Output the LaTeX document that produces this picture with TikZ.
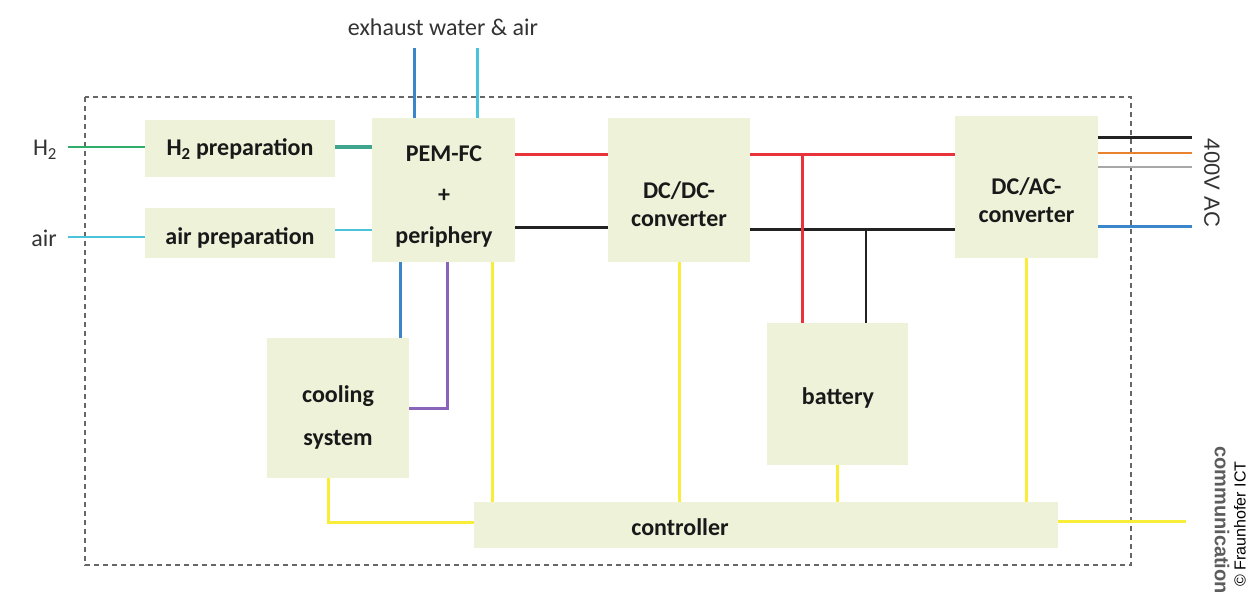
\documentclass[tikz,border=0pt]{standalone}
\usepackage{fontspec}
\setmainfont{Carlito}
\newfontfamily\arialf{Liberation Sans}
\definecolor{boxfill}{HTML}{EDF2D9}
\definecolor{cgreen}{HTML}{2EAD6B}
\definecolor{cteal}{HTML}{3FA58C}
\definecolor{clblue}{HTML}{4BC3DA}
\definecolor{cblue}{HTML}{3A86C8}
\definecolor{cred}{HTML}{E8333A}
\definecolor{cblack}{HTML}{222222}
\definecolor{corange}{HTML}{E8822F}
\definecolor{cgray}{HTML}{A8A8A8}
\definecolor{cpurple}{HTML}{8A64B8}
\definecolor{cyellow}{HTML}{F8EE3A}
\definecolor{ctext}{HTML}{333333}
\tikzset{
  blk/.style={fill=boxfill, draw=none, align=center, inner sep=0pt,
    font=\fontsize{24}{40}\selectfont\bfseries, text=black!90},
  btxt/.style={inner sep=0pt, align=center, text=black!90},
  wire/.style={line width=3pt},
  lbl/.style={inner sep=0pt, text=ctext, font=\fontsize{24}{28}\selectfont},
}
\begin{document}
\begin{tikzpicture}[x=1pt,y=-1pt]
\useasboundingbox[fill=white] (0,0) rectangle (1249,596);
% frame
\draw[draw=gray!80!black, line width=1.8pt, dash pattern=on 5pt off 4pt] (85,97) rectangle (1131,565);
% boxes
\node[blk, minimum width=190, minimum height=57] (h2prep) at (240,148.5) {};
\node[blk, minimum width=190, minimum height=50] (airprep) at (240,233) {};
\node[blk, minimum width=143, minimum height=144] (pem) at (443.5,190) {};
\node[blk, minimum width=142, minimum height=144] (dcdc) at (679,190) {};
\node[blk, minimum width=143, minimum height=142] (dcac) at (1026.5,187) {};
\node[blk, minimum width=141, minimum height=142] (battery) at (837.5,394) {};
\node[blk, minimum width=142, minimum height=140] (cooling) at (338,408) {};
\node[blk, minimum width=584, minimum height=46] (controller) at (766,525) {};
% box texts
\node[btxt, font=\fontsize{24}{28}\selectfont\bfseries] (h2txt) at (240,149) {H\textsubscript{2} preparation};
\node[btxt, font=\fontsize{24}{28}\selectfont\bfseries] (airtxt) at (240,238) {air preparation};
\node[btxt, font=\fontsize{24}{41}\selectfont\bfseries] (pemtxt) at (444,197) {PEM-FC\\+\\periphery};
\node[btxt, font=\fontsize{24}{28}\selectfont\bfseries] (dcdctxt) at (679,204) {DC/DC-\\converter};
\node[btxt, font=\fontsize{24}{28}\selectfont\bfseries] (dcactxt) at (1026.5,200) {DC/AC-\\converter};
\node[btxt, font=\fontsize{24}{43}\selectfont\bfseries] (cooltxt) at (338,417) {cooling\\system};
\node[btxt, font=\fontsize{24}{28}\selectfont\bfseries] (battxt) at (838,398) {battery};
\node[btxt, font=\fontsize{24}{28}\selectfont\bfseries] (ctrltxt) at (680,527) {controller};
% labels
\node[lbl] (exh) at (443,27) {exhaust water \& air};
\node[lbl] (h2l) at (45,150) {H\textsubscript{2}};
\node[lbl] (airl) at (44,238) {air};
\node[lbl, rotate=-90, font=\arialf\fontsize{22}{24}\selectfont] (acl) at (1212,183) {400V AC};
\node[lbl, rotate=-90, font=\arialf\bfseries\fontsize{20}{24}\selectfont, text=ctext!80] (coml) at (1222,520) {communication};
\node[lbl, rotate=90, font=\arialf\fontsize{16}{20}\selectfont, text=black] (copy) at (1240,524) {\textcopyright\ Fraunhofer ICT};
% coordinates for free ends
\coordinate (h2in) at (68,147);
\coordinate (airin) at (68,237);
\coordinate (exh1) at (414,48);
\coordinate (exh2) at (477,48);
\coordinate (ac1) at (1192,138);
\coordinate (ac2) at (1192,153);
\coordinate (ac3) at (1192,167);
\coordinate (ac4) at (1192,226);
\coordinate (comout) at (1186,521);
% inputs
\draw[wire, cgreen, line width=2.4pt] (h2in) -- (h2prep.west |- h2in);
\draw[wire, cteal, line width=3.4pt] (h2prep.east |- 0,147) -- (pem.west |- 0,147);
\draw[wire, clblue, line width=2.4pt] (airin) -- (airprep.west |- airin);
\draw[wire, clblue, line width=2.4pt] (airprep.east |- 0,230) -- (pem.west |- 0,230);
\draw[wire, cblue] (exh1) -- (pem.north -| exh1);
\draw[wire, clblue] (exh2) -- (pem.north -| exh2);
% DC bus
\draw[wire, cred] (pem.east |- 0,155) -- (dcdc.west |- 0,155);
\draw[wire, cblack] (pem.east |- 0,227) -- (dcdc.west |- 0,227);
\draw[wire, cred] (dcdc.east |- 0,155) -- (dcac.west |- 0,155);
\draw[wire, cblack] (dcdc.east |- 0,229) -- (dcac.west |- 0,229);
\draw[wire, cred] (802,155) -- (battery.north -| 802,0);
\draw[wire, cblack, line width=2.4pt] (866,229) -- (battery.north -| 866,0);
% AC out
\draw[wire, cblack] (dcac.east |- ac1) -- (ac1);
\draw[wire, corange, line width=2.4pt] (dcac.east |- ac2) -- (ac2);
\draw[wire, cgray, line width=2.2pt] (dcac.east |- ac3) -- (ac3);
\draw[wire, cblue] (dcac.east |- ac4) -- (ac4);
% cooling
\draw[wire, cblue] (pem.south -| 400,0) -- (cooling.north -| 400,0);
\draw[wire, cpurple] (pem.south -| 447,0) -- (447,408) -- (cooling.east |- 0,408);
% control
\draw[wire, cyellow] (pem.south -| 492,0) -- (controller.north -| 492,0);
\draw[wire, cyellow] (dcdc.south) -- (controller.north -| dcdc.south);
\draw[wire, cyellow] (battery.south) -- (controller.north -| battery.south);
\draw[wire, cyellow] (dcac.south) -- (controller.north -| dcac.south);
\draw[wire, cyellow] (cooling.south -| 328,0) -- (328,522) -- (controller.west |- 0,522);
\draw[wire, cyellow] (controller.east |- comout) -- (comout);
\end{tikzpicture}
\end{document}
